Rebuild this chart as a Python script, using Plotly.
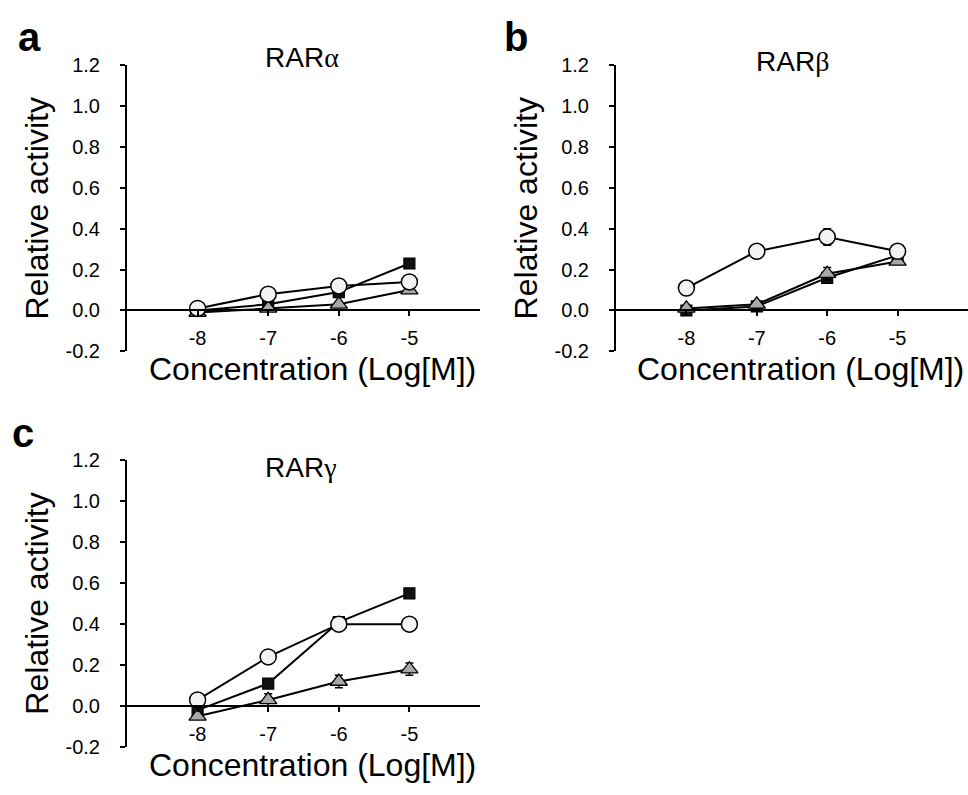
import plotly.graph_objects as go

# ---------------- data ----------------
conc = [-8, -7, -6, -5]
x_tickvals = [-8, -7, -6, -5]
x_ticktext = ["-8", "-7", "-6", "-5"]
y_tickvals = [-0.2, 0.0, 0.2, 0.4, 0.6, 0.8, 1.0, 1.2]
y_ticktext = ["-0.2", "0.0", "0.2", "0.4", "0.6", "0.8", "1.0", "1.2"]

panel_titles = ["RAR<span style='font-family:Liberation Serif'>α</span>",
                "RAR<span style='font-family:Liberation Serif'>β</span>",
                "RAR<span style='font-family:Liberation Serif'>γ</span>"]
panel_letters = ["a", "b", "c"]
x_title = "Concentration (Log[M])"
y_title = "Relative activity"

# RARα
a_square = [0.00, 0.03, 0.09, 0.23]
a_square_err = [0.005, 0.01, 0.01, 0.02]
a_circle = [0.01, 0.08, 0.12, 0.14]
a_circle_err = [0.005, 0.02, 0.03, 0.01]
a_triangle = [-0.01, 0.01, 0.03, 0.10]
a_triangle_err = [0.005, 0.005, 0.01, 0.01]

# RARβ
b_square = [0.00, 0.02, 0.16, 0.27]
b_square_err = [0.005, 0.01, 0.02, 0.01]
b_circle = [0.11, 0.29, 0.36, 0.29]
b_circle_err = [0.01, 0.03, 0.04, 0.02]
b_triangle = [0.01, 0.03, 0.18, 0.24]
b_triangle_err = [0.005, 0.01, 0.03, 0.01]

# RARγ
c_square = [-0.02, 0.11, 0.41, 0.55]
c_square_err = [0.01, 0.01, 0.02, 0.02]
c_circle = [0.03, 0.24, 0.40, 0.40]
c_circle_err = [0.01, 0.03, 0.03, 0.01]
c_triangle = [-0.05, 0.03, 0.12, 0.18]
c_triangle_err = [0.01, 0.03, 0.03, 0.03]

W, H = 968, 795
FONT = "Liberation Sans, Arial, sans-serif"


def px(xp):
    return xp / W


def py(yp):
    return 1 - yp / H


# page-pixel layout of panels: (x0, x1, ytop, ybottom)
panels_px = [(127, 480, 56, 350), (616, 968, 56, 350), (127, 480, 462, 757)]
YMIN, YMAX = -0.2, 1.2

fig = go.Figure()

series_sets = [
    [(a_square, a_square_err), (a_triangle, a_triangle_err), (a_circle, a_circle_err)],
    [(b_square, b_square_err), (b_triangle, b_triangle_err), (b_circle, b_circle_err)],
    [(c_square, c_square_err), (c_triangle, c_triangle_err), (c_circle, c_circle_err)],
]
marker_styles = [
    dict(symbol="square", size=11, color="#111111", line=dict(color="black", width=1.2)),
    dict(symbol="triangle-up", size=15, color="#a8a8a8", line=dict(color="black", width=1.3)),
    dict(symbol="circle", size=16, color="#f2f2f2", line=dict(color="black", width=1.5)),
]

title_pos = [(302, 48), (792, 52), (301, 470)]
ytitle_x = [37, 526, 37]

annotations = []
for i, (x0, x1, yt, yb) in enumerate(panels_px):
    idx = "" if i == 0 else str(i + 1)
    xd = [px(x0), min(px(x1), 1.0)]
    yd = [py(yb), py(yt)]
    zero_pos = yd[0] + (0 - YMIN) / (YMAX - YMIN) * (yd[1] - yd[0])
    fig.update_layout(**{
        f"xaxis{idx}": dict(domain=xd, range=[-9, -4], anchor="free", position=zero_pos,
                            showline=True, linecolor="black", linewidth=2,
                            ticks="outside", ticklen=5, tickwidth=1.5, tickcolor="black",
                            tickvals=x_tickvals, ticktext=x_ticktext, ticklabelstandoff=5,
                            tickfont=dict(family=FONT, size=20, color="black"),
                            showgrid=False, zeroline=False),
        f"yaxis{idx}": dict(domain=yd, range=[YMIN, YMAX], anchor=f"x{idx}",
                            showline=True, linecolor="black", linewidth=2,
                            ticks="outside", ticklen=5, tickwidth=1.5, tickcolor="black",
                            tickvals=y_tickvals, ticktext=y_ticktext, ticklabelstandoff=16,
                            tickfont=dict(family=FONT, size=20, color="black"),
                            showgrid=False, zeroline=False),
    })
    for (vals, errs), ms in zip(series_sets[i], marker_styles):
        fig.add_trace(go.Scatter(
            x=conc, y=vals, mode="lines+markers",
            line=dict(color="black", width=2),
            marker=ms,
            error_y=dict(type="data", array=errs, color="black", thickness=1.5, width=4),
            xaxis=f"x{idx}", yaxis=f"y{idx}", showlegend=False))
    tx, ty = title_pos[i]
    annotations.append(dict(text=panel_titles[i], x=px(tx), y=py(ty),
                            xref="paper", yref="paper", xanchor="center", yanchor="middle",
                            showarrow=False, font=dict(family=FONT, size=28, color="black")))
    annotations.append(dict(text=y_title, x=px(ytitle_x[i]), y=py((yt + yb) / 2),
                            xref="paper", yref="paper", xanchor="center", yanchor="middle",
                            textangle=-90, showarrow=False,
                            font=dict(family=FONT, size=32, color="black")))
    xt_cx = 312 if i != 1 else 800
    annotations.append(dict(text=x_title, x=px(xt_cx), y=py(yb + 18),
                            xref="paper", yref="paper", xanchor="center", yanchor="middle",
                            showarrow=False, font=dict(family=FONT, size=32, color="black")))

letter_pos = [(29, 27), (516, 27), (23, 434)]
for L, (lx, ly) in zip(panel_letters, letter_pos):
    annotations.append(dict(text=f"<b>{L}</b>", x=px(lx), y=py(ly), xref="paper", yref="paper",
                            xanchor="center", yanchor="middle", showarrow=False,
                            font=dict(family=FONT, size=40, color="black")))

fig.update_layout(width=W, height=H, margin=dict(l=0, r=0, t=0, b=0),
                  plot_bgcolor="white", paper_bgcolor="white",
                  annotations=annotations)

fig.write_html("out.html", config={"displayModeBar": False},
               post_script="document.body.style.margin='0';")
